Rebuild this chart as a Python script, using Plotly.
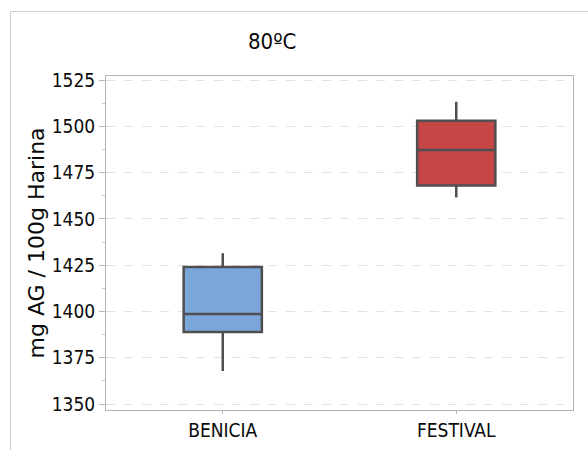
import plotly.graph_objects as go

categories = ["BENICIA", "FESTIVAL"]
lower_whisker = [1367.8, 1461.6]
q1_vals = [1388.9, 1468.1]
medians = [1398.6, 1487.2]
q3_vals = [1424.0, 1503.0]
upper_whisker = [1431.5, 1513.3]
fill_colors = ["#7BA6DA", "#C64545"]
y_ticks = [1350, 1375, 1400, 1425, 1450, 1475, 1500, 1525]
title_text = "80ºC"
y_title = "mg AG / 100g Harina"

NARROW = "Liberation Sans Narrow, DejaVu Sans Condensed, Arial Narrow, sans-serif"

fig = go.Figure()
for i, cat in enumerate(categories):
    fig.add_trace(go.Box(
        x=[cat],
        q1=[q1_vals[i]], median=[medians[i]], q3=[q3_vals[i]],
        lowerfence=[lower_whisker[i]], upperfence=[upper_whisker[i]],
        fillcolor=fill_colors[i],
        line=dict(color="#4F4F4F", width=2.5),
        width=0.335,
        whiskerwidth=0,
        boxpoints=False,
        showlegend=False,
        hoverinfo="skip",
    ))

W, H = 588, 450
L, R, T, B = 106, 15, 76, 40
pw, ph = W - L - R, H - T - B

def px_x(p):
    return (p - L) / pw

def px_y(p):
    return (H - B - p) / ph

fig.update_layout(
    width=W, height=H,
    margin=dict(l=L, r=R, t=T, b=B, pad=0, autoexpand=False),
    paper_bgcolor="white", plot_bgcolor="white",
    boxmode="overlay",
    xaxis=dict(
        range=[-0.5, 1.5], categoryorder="array", categoryarray=categories,
        automargin=False,
        showline=True, linecolor="#B4B4B4", linewidth=1, mirror=True,
        ticks="outside", ticklen=3, tickcolor="#B4B4B4",
        showgrid=False, zeroline=False,
        tickfont=dict(family=NARROW, size=19, color="#0A0A0A"),
    ),
    yaxis=dict(
        range=[1346.8, 1527.2], tickvals=y_ticks,
        automargin=False,
        showline=True, linecolor="#B4B4B4", linewidth=1, mirror=True,
        ticks="outside", ticklen=6, tickcolor="#B4B4B4",
        showgrid=True, gridcolor="#E2E2E2", griddash="dash", gridwidth=1,
        zeroline=False,
        minor=dict(dtick=12.5, tick0=1350, ticks="outside", ticklen=3, tickcolor="#C8C8C8", showgrid=False),
        tickfont=dict(family=NARROW, size=19, color="#0A0A0A"),
    ),
    shapes=[dict(
        type="rect", xref="paper", yref="paper",
        x0=px_x(10.5), x1=px_x(600), y0=px_y(470), y1=px_y(11.5),
        line=dict(color="#CFCFCF", width=1), fillcolor="rgba(0,0,0,0)", layer="below",
    )],
    annotations=[
        dict(text=title_text, xref="paper", yref="paper", x=px_x(272), y=px_y(42),
             xanchor="center", yanchor="middle", showarrow=False,
             font=dict(family=NARROW, size=22, color="#0A0A0A")),
        dict(text=y_title, xref="paper", yref="paper", x=px_x(36), y=px_y(243.5),
             xanchor="center", yanchor="middle", showarrow=False, textangle=-90,
             font=dict(family="DejaVu Sans, sans-serif", size=22, color="#0A0A0A")),
    ],
)

fig.write_html("out.html")
